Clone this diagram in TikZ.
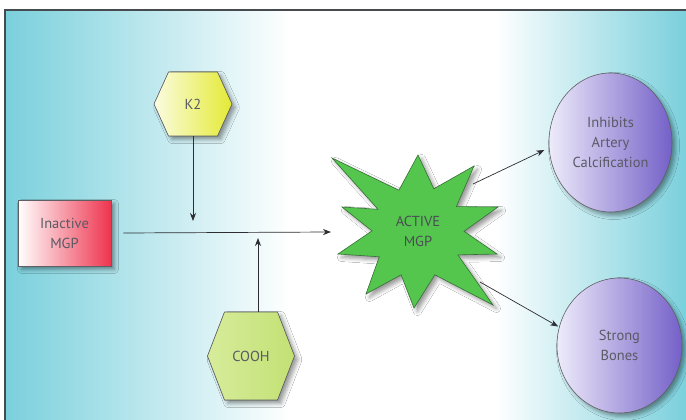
\documentclass[tikz,border=0pt]{standalone}
\usepackage{fontspec}
\setmainfont{PT Sans}
\usetikzlibrary{arrows.meta,shapes.geometric,shadows.blur,calc}

\definecolor{bgcyan}{RGB}{122,208,220}
\definecolor{framegray}{RGB}{70,75,80}
\definecolor{mgpred}{RGB}{238,52,78}
\definecolor{k2yellow}{RGB}{228,234,52}
\definecolor{coohlight}{RGB}{215,236,155}
\definecolor{coohdark}{RGB}{194,225,116}
\definecolor{stargreen}{RGB}{84,198,78}
\definecolor{stargreenedge}{RGB}{55,110,55}
\definecolor{lavender}{RGB}{238,235,250}
\definecolor{violet}{RGB}{116,96,200}
\definecolor{labelgray}{RGB}{90,90,100}
\definecolor{edgegray}{RGB}{95,95,100}
\definecolor{wiregray}{RGB}{45,45,50}

% backdrop: cyan at both sides, white in the middle
\pgfdeclarehorizontalshading{backdrop}{100bp}{color(0bp)=(bgcyan); color(25bp)=(bgcyan); color(46bp)=(white); color(61bp)=(white); color(75bp)=(bgcyan); color(100bp)=(bgcyan)}

\tikzset{
  lbltext/.style={font=\fontsize{14.5}{20}\selectfont, text=labelgray, align=center, inner sep=0pt},
  softshadow/.style={blur shadow={shadow xshift=3.5pt, shadow yshift=-3.5pt, shadow blur radius=4pt, shadow opacity=40}},
  outline/.style={draw=edgegray, line width=0.6pt},
  mgpbox/.style={lbltext, outline, softshadow, rectangle, minimum width=93pt, minimum height=66pt, left color=white, right color=mgpred},
  hexk/.style={outline, softshadow, left color=white!85!k2yellow, right color=k2yellow},
  hexc/.style={outline, softshadow, left color=coohlight, right color=coohdark},
  burst/.style={draw=stargreenedge, line width=0.6pt, fill=stargreen, softshadow},
  outcome/.style={lbltext, outline, softshadow, ellipse, left color=lavender, right color=violet},
  conn/.style={draw=wiregray, line width=0.7pt, -{Stealth[length=8pt,width=6pt]}}
}

\begin{document}
\begin{tikzpicture}[x=1pt,y=-1pt]
\useasboundingbox (0,0) rectangle (686,420);
\fill[white] (0,0) rectangle (686,420);
\shade[shading=backdrop] (5,10) rectangle (686,420);
\draw[framegray, line width=1.2pt] (5,420) -- (5,10) -- (686,10);

% vitamin K2 hexagon
\filldraw[hexk] (193,104) ++(-24.5,-32) -- ++(49,0) -- ++(14.5,32) -- ++(-14.5,32) -- ++(-49,0) -- ++(-14.5,-32) -- cycle;
\node[lbltext, minimum width=77pt, minimum height=64pt] (k2) at (193,104) {K2};

% carboxyl hexagon
\filldraw[hexc] (251,356) ++(-26.5,-44) -- ++(53,0) -- ++(17,44) -- ++(-17,44) -- ++(-53,0) -- ++(-17,-44) -- cycle;
\node[lbltext, minimum width=87pt, minimum height=88pt] (cooh) at (251,356) {COOH};

% inactive protein
\node[mgpbox] (inactive) at (64.5,233) {Inactive\\MGP};

% activated protein burst
\filldraw[burst, shift={(418,232)}]
  (0,-77) -- (15.8,-43.2) -- (56,-66) -- (38.4,-25.4) -- (80,-25) -- (46,-0.7)
  -- (79,22) -- (39.9,22.9) -- (75,73) -- (16.8,42.8) -- (-4,76) -- (-16.9,42.8)
  -- (-52,62) -- (-38.7,24.8) -- (-80,22) -- (-46,-1.1) -- (-76,-25) -- (-40,-22.7)
  -- (-86,-74) -- (-19.1,-41.8) -- cycle;
\node[lbltext, text=labelgray!85!black] (active) at (418,231) {ACTIVE\\MGP};

% outcomes
\node[outcome, minimum width=123pt, minimum height=139pt] (inhibits) at (610.5,142.5) {Inhibits\\Artery\\Calcification};
\node[outcome, minimum width=125pt, minimum height=135pt] (bones) at (619.5,345.5) {Strong\\Bones};

% connector end points
\coordinate (k2-tip) at (193,221);
\coordinate (cooh-tip) at (258,238);
\coordinate (act-w) at (331,232);
\coordinate (act-ne) at (473,184);
\coordinate (act-se) at (480,282);

\draw[conn] ([xshift=12pt]inactive.east) -- (act-w);
\draw[conn] (k2.south) -- (k2-tip);
\draw[conn] ([xshift=7pt]cooh.north) -- (cooh-tip);
\draw[conn, shorten >=5pt] (act-ne) -- (inhibits.185);
\draw[conn, shorten >=1pt] (act-se) -- (bones.163);
\end{tikzpicture}
\end{document}
